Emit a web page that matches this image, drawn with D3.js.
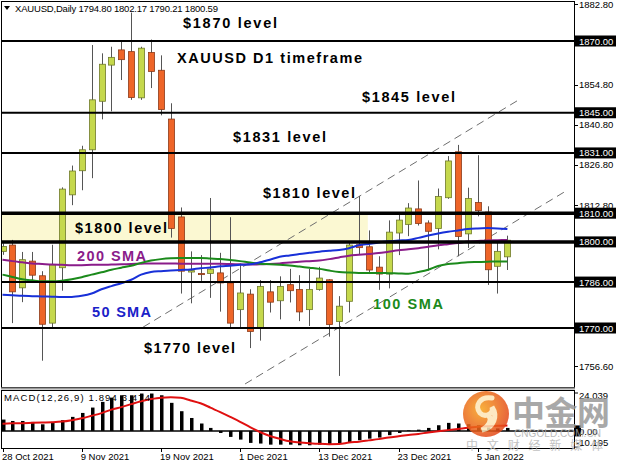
<!DOCTYPE html>
<html><head><meta charset="utf-8">
<script src="https://cdn.jsdelivr.net/npm/d3@7"></script>
<style>body{margin:0;background:#fff;}svg{display:block;}</style>
</head><body>
<svg id="c" width="619" height="465"></svg>
<script>
// ---------- DATA ----------
const dates = ["28 Oct 2021","29 Oct 2021","1 Nov 2021","2 Nov 2021","3 Nov 2021","4 Nov 2021","5 Nov 2021","8 Nov 2021","9 Nov 2021","10 Nov 2021","11 Nov 2021","12 Nov 2021","15 Nov 2021","16 Nov 2021","17 Nov 2021","18 Nov 2021","19 Nov 2021","22 Nov 2021","23 Nov 2021","24 Nov 2021","25 Nov 2021","26 Nov 2021","29 Nov 2021","30 Nov 2021","1 Dec 2021","2 Dec 2021","3 Dec 2021","6 Dec 2021","7 Dec 2021","8 Dec 2021","9 Dec 2021","10 Dec 2021","13 Dec 2021","14 Dec 2021","15 Dec 2021","16 Dec 2021","17 Dec 2021","20 Dec 2021","21 Dec 2021","22 Dec 2021","23 Dec 2021","27 Dec 2021","28 Dec 2021","29 Dec 2021","30 Dec 2021","31 Dec 2021","3 Jan 2022","4 Jan 2022","5 Jan 2022","6 Jan 2022","7 Jan 2022","10 Jan 2022"];
const openP  = [1796.7,1798.9,1784.0,1793.3,1788.2,1771.7,1791.0,1816.4,1824.8,1832.1,1849.0,1861.6,1866.9,1866.3,1850.2,1866.0,1859.8,1842.8,1808.7,1789.5,1789.0,1789.0,1789.2,1785.7,1776.4,1781.8,1770.0,1782.6,1779.5,1785.1,1783.4,1776.4,1783.4,1786.8,1772.3,1779.3,1799.0,1798.3,1791.2,1788.8,1803.1,1806.1,1811.5,1806.6,1804.7,1815.4,1831.4,1802.8,1813.7,1810.4,1791.5,1794.80];
const highP  = [1799.5,1800.7,1796.5,1796.5,1789.8,1799.0,1819.0,1826.6,1833.5,1868.6,1865.7,1868.0,1869.8,1879.9,1868.0,1870.5,1865.0,1848.3,1812.0,1796.7,1795.4,1815.3,1796.2,1808.6,1792.5,1783.5,1786.7,1786.7,1788.0,1790.6,1788.4,1790.6,1791.3,1787.0,1781.1,1800.0,1816.0,1804.0,1795.0,1807.5,1810.4,1813.5,1821.4,1807.5,1818.6,1829.9,1833.8,1818.9,1830.2,1812.4,1800.0,1802.17];
const lowP   = [1795.5,1771.7,1779.0,1786.0,1758.6,1770.0,1783.0,1812.8,1818.0,1822.2,1842.7,1845.5,1856.4,1849.5,1849.5,1853.6,1844.1,1801.5,1782.0,1778.6,1786.4,1780.5,1775.7,1770.0,1769.7,1763.0,1765.6,1775.4,1773.0,1778.9,1772.4,1770.7,1783.0,1767.0,1753.3,1775.4,1795.5,1788.8,1783.3,1783.8,1795.4,1802.0,1805.7,1790.0,1797.4,1815.0,1795.0,1797.9,1808.9,1785.0,1782.0,1790.21];
const closeP = [1798.4,1782.6,1793.8,1788.4,1771.3,1792.0,1818.4,1824.7,1832.1,1849.5,1861.9,1864.3,1863.5,1850.3,1867.5,1859.4,1846.1,1804.7,1789.8,1790.0,1788.6,1790.5,1785.7,1771.7,1782.2,1768.8,1784.5,1779.0,1784.5,1783.0,1775.6,1783.4,1787.4,1771.2,1777.6,1798.9,1798.0,1790.2,1788.8,1803.4,1807.6,1811.8,1806.4,1803.7,1815.8,1828.2,1801.9,1815.1,1810.9,1790.3,1796.7,1800.59];
const sma50  = [1781.6,1781.4,1781.2,1781.1,1781.0,1780.9,1780.8,1780.8,1781.2,1782.0,1783.5,1784.6,1785.6,1786.8,1788.6,1789.5,1789.8,1790.0,1790.2,1790.4,1790.8,1791.1,1791.5,1791.7,1792.0,1792.2,1792.9,1793.8,1794.8,1795.3,1795.8,1796.2,1796.6,1796.9,1797.2,1797.8,1798.8,1799.3,1799.8,1800.2,1800.5,1800.7,1801.4,1802.2,1802.9,1803.5,1804.0,1804.5,1804.7,1804.8,1804.7,1804.5];
const sma100 = [1788.6,1787.8,1787.0,1786.6,1786.3,1786.3,1786.5,1787.0,1787.7,1788.6,1789.4,1790.3,1791.0,1791.7,1792.7,1793.5,1794.0,1794.3,1794.4,1794.4,1794.4,1794.2,1794.0,1793.7,1793.3,1792.8,1792.4,1792.2,1792.0,1791.8,1791.4,1791.0,1790.6,1790.0,1789.5,1789.3,1789.2,1789.2,1789.2,1789.1,1789.0,1788.9,1789.5,1790.3,1791.6,1792.3,1792.6,1792.9,1793.0,1793.1,1793.2,1793.2];
const sma200 = [1793.8,1793.3,1792.9,1792.5,1792.3,1792.1,1792.0,1791.9,1791.9,1792.0,1792.0,1792.1,1792.2,1792.3,1792.4,1792.5,1792.5,1792.5,1792.4,1792.4,1792.4,1792.4,1792.4,1792.3,1792.2,1792.1,1792.2,1792.3,1792.5,1792.8,1793.1,1793.3,1793.5,1794.0,1794.6,1795.2,1795.5,1795.8,1796.1,1796.6,1797.1,1797.4,1797.8,1798.3,1798.8,1799.2,1799.6,1800.1,1800.3,1800.5,1800.6,1800.7];
const macdMain   = [7.2,6.3,6.3,5.7,4.2,5.7,6.8,8.9,11.4,14.8,18.4,21.1,22.6,22.6,23.7,23.7,22.6,17.8,12.5,8.2,4.7,1.9,-1.3,-3.8,-5.5,-7.6,-8.0,-8.7,-8.7,-8.7,-9.1,-9.1,-8.7,-8.7,-8.0,-7.0,-5.9,-4.9,-4.2,-2.7,-1.3,0.4,0.8,1.9,3.6,5.1,4.7,4.3,3.6,2.2,1.6,1.894];
const macdSignal = [4.6,4.8,4.9,5.1,5.3,5.5,5.9,6.8,8.0,9.6,11.3,13.5,15.1,17.0,18.8,20.2,21.1,21.3,21.0,19.3,17.5,14.8,11.9,8.9,5.8,2.4,-0.7,-3.2,-5.0,-6.6,-7.3,-7.8,-8.2,-8.4,-8.3,-7.4,-6.8,-6.0,-5.2,-4.2,-3.4,-2.6,-1.9,-1.0,-0.2,0.5,1.2,2.0,2.6,3.0,3.3,3.474];
const levels = [1870,1845,1831,1810,1800,1786,1770];
const thickLevels = [1810,1800];
const bandLevels = [1800,1810];
const bandEndIndex = 36.9;
const plainPriceTicks = [1882.80,1854.80,1840.80,1826.80,1812.80,1756.60];
const dateTickIdx = [0,8,16,24,32,40,48];
const macdTicks = [24.039,0,-10.195];
// trend channel (bar index, price)
const upperChannel = [[14.2,1770.3],[52.1,1849.4]];
const lowerChannel = [[24.5,1750.5],[56.9,1817.7]];
const header = "XAUUSD,Daily  1794.80 1802.17 1790.21 1800.59";
const macdLabel = "MACD(12,26,9) 1.894 3.474";

// ---------- LAYOUT ----------
const L = 1, R = 574, MT = 1, MB = 387, KT = 390, KB = 448;
const svg = d3.select("#c");
const x = d3.scaleLinear().domain([0, dates.length - 1]).range([2.5, 507.4]);
const y = d3.scaleLinear().domain([1770, 1870]).range([328, 41]);
const ym = d3.scaleLinear().domain([-10.195, 24.039]).range([447, 393]);
const font = "'Liberation Sans', Arial, sans-serif";

svg.append("rect").attr("width",619).attr("height",465).attr("fill","#fff");
const defs = svg.append("defs");
defs.append("clipPath").attr("id","mc").append("rect").attr("x",L).attr("y",MT).attr("width",R-L).attr("height",MB-MT);
defs.append("clipPath").attr("id","kc").append("rect").attr("x",L).attr("y",KT).attr("width",R-L).attr("height",KB-KT);

const main = svg.append("g").attr("clip-path","url(#mc)");

// band
main.append("rect").attr("x",0).attr("width",x(bandEndIndex))
  .attr("y",y(bandLevels[1])).attr("height",y(bandLevels[0])-y(bandLevels[1])).attr("fill","#fbf8d2");

// channel
[upperChannel, lowerChannel].forEach(c => {
  main.append("line").attr("x1",x(c[0][0])).attr("y1",y(c[0][1])).attr("x2",x(c[1][0])).attr("y2",y(c[1][1]))
    .attr("stroke","#6e6e6e").attr("stroke-width",1).attr("stroke-dasharray","8,5");
});

// candles
const idx = d3.range(dates.length);
const cg = main.append("g");
cg.selectAll("line.w").data(idx).join("line").attr("class","w")
  .attr("x1",i=>Math.round(x(i))+0.5).attr("x2",i=>Math.round(x(i))+0.5)
  .attr("y1",i=>y(highP[i])).attr("y2",i=>y(lowP[i])).attr("stroke","#555").attr("stroke-width",1);
cg.selectAll("rect.b").data(idx).join("rect").attr("class","b")
  .attr("x",i=>Math.round(x(i))-2.5).attr("width",6)
  .attr("y",i=>y(Math.max(openP[i],closeP[i])))
  .attr("height",i=>Math.max(1,Math.abs(y(openP[i])-y(closeP[i]))))
  .attr("fill",i=>closeP[i]>=openP[i]?"#c5d84c":"#ee6528")
  .attr("stroke",i=>closeP[i]>=openP[i]?"#6f7a2a":"#8c3a18").attr("stroke-width",0.8);

// moving averages
const ln = arr => d3.line().x((d,i)=>x(i)).y(d=>y(d)).curve(d3.curveMonotoneX)(arr);
main.append("path").attr("d",ln(sma200)).attr("fill","none").attr("stroke","#8a1c8a").attr("stroke-width",2);
main.append("path").attr("d",ln(sma100)).attr("fill","none").attr("stroke","#1b8a1b").attr("stroke-width",2);
main.append("path").attr("d",ln(sma50)).attr("fill","none").attr("stroke","#1830d8").attr("stroke-width",2);

// levels
main.selectAll("line.lv").data(levels).join("line").attr("class","lv")
  .attr("x1",0).attr("x2",R).attr("y1",d=>y(d)).attr("y2",d=>y(d))
  .attr("stroke","#000").attr("stroke-width",d=>thickLevels.includes(d)?3.5:2);

// annotations
const notes = [
  {t:"$1870 level", x:183, y:28, w:94, c:"#000"},
  {t:"XAUUSD D1 timeframe", x:177, y:63, w:185, c:"#000"},
  {t:"$1845 level", x:362, y:102, w:93, c:"#000"},
  {t:"$1831 level", x:233, y:142, w:93, c:"#000"},
  {t:"$1810 level", x:263, y:198, w:92, c:"#000"},
  {t:"$1800 level", x:75, y:233, w:92, c:"#000"},
  {t:"200 SMA", x:77, y:261, w:69, c:"#8a1c8a"},
  {t:"50 SMA", x:92, y:317, w:59, c:"#1a22c8"},
  {t:"100 SMA", x:373, y:309, w:70, c:"#1b8a1b"},
  {t:"$1770 level", x:144, y:353, w:91, c:"#000"}
];
svg.append("g").selectAll("text").data(notes).join("text")
  .attr("x",d=>d.x).attr("y",d=>d.y).attr("textLength",d=>d.w).attr("lengthAdjust","spacing")
  .attr("font-family",font).attr("font-weight","bold").attr("font-size",14.5).attr("fill",d=>d.c).text(d=>d.t);

// header
svg.append("path").attr("d","M4,6 L10,6 L7,10 Z").attr("fill","#000");
svg.append("text").attr("x",15).attr("y",12).attr("font-family",font).attr("font-size",9.5)
  .attr("textLength",203).attr("lengthAdjust","spacing").attr("fill","#000").text(header);

// frames
svg.append("rect").attr("x",L+0.5).attr("y",MT+0.5).attr("width",R-L).attr("height",MB-MT).attr("fill","none").attr("stroke","#000");
svg.append("rect").attr("x",L).attr("y",MB+0.5).attr("width",R-L+1).attr("height",KT-MB-1).attr("fill","#9a9a9a");
svg.append("rect").attr("x",L+0.5).attr("y",KT+0.5).attr("width",R-L).attr("height",KB-KT).attr("fill","none").attr("stroke","#000");

// price axis
const ax = svg.append("g");
ax.selectAll("line.pt").data(plainPriceTicks).join("line").attr("class","pt")
  .attr("x1",R).attr("x2",R+4).attr("y1",d=>Math.round(y(d))+0.5).attr("y2",d=>Math.round(y(d))+0.5).attr("stroke","#000");
ax.selectAll("text.pt").data(plainPriceTicks).join("text").attr("class","pt")
  .attr("x",579).attr("y",d=>y(d)+3.5).attr("font-family",font).attr("font-size",9.5).attr("fill","#000")
  .text(d=>d.toFixed(2));
ax.selectAll("rect.lb").data(levels).join("rect").attr("class","lb")
  .attr("x",R+1).attr("width",41).attr("y",d=>y(d)-5.5).attr("height",11).attr("fill","#000");
ax.selectAll("text.lb").data(levels).join("text").attr("class","lb")
  .attr("x",579).attr("y",d=>y(d)+3.5).attr("font-family",font).attr("font-size",9.5).attr("fill","#fff")
  .text(d=>d.toFixed(2));

// MACD panel
const kg = svg.append("g").attr("clip-path","url(#kc)");
kg.append("line").attr("x1",L).attr("x2",R).attr("y1",ym(0)).attr("y2",ym(0)).attr("stroke","#000").attr("stroke-width",1.5);
kg.selectAll("rect.h").data(idx).join("rect").attr("class","h")
  .attr("x",i=>Math.round(x(i))-1).attr("width",3.5)
  .attr("y",i=>Math.min(ym(0),ym(macdMain[i]))).attr("height",i=>Math.abs(ym(macdMain[i])-ym(0)))
  .attr("fill","#000");
kg.append("path").attr("d",d3.line().x((d,i)=>x(i)).y(d=>ym(d)).curve(d3.curveMonotoneX)(macdSignal))
  .attr("fill","none").attr("stroke","#e01010").attr("stroke-width",2);
svg.append("text").attr("x",4).attr("y",401).attr("font-family",font).attr("font-size",9.5)
  .attr("textLength",146).attr("lengthAdjust","spacing").attr("fill","#000").text(macdLabel);

// MACD axis
ax.selectAll("line.mt").data(macdTicks).join("line").attr("class","mt")
  .attr("x1",R).attr("x2",R+4).attr("y1",d=>ym(d)).attr("y2",d=>ym(d)).attr("stroke","#000");
ax.append("rect").attr("x",R+1).attr("y",ym(0)-5.5).attr("width",6).attr("height",11).attr("fill","#000");
ax.selectAll("text.mt").data(macdTicks).join("text").attr("class","mt")
  .attr("x",d=>d<0?576:579).attr("y",(d,i)=>[398.5,435,446][i]).attr("font-family",font).attr("font-size",9.5).attr("fill","#000")
  .text(d=>d===0?"0.00":(d<0?"-"+Math.abs(d).toFixed(3):d.toFixed(3)));

// date axis
const dg = svg.append("g");
dg.selectAll("line").data(dateTickIdx).join("line")
  .attr("x1",i=>Math.round(x(i))+0.5).attr("x2",i=>Math.round(x(i))+0.5).attr("y1",KB).attr("y2",KB+4).attr("stroke","#000");
dg.selectAll("text").data(dateTickIdx).join("text")
  .attr("x",i=>Math.max(2,x(i)-1)).attr("y",460).attr("font-family",font).attr("font-size",9.5).attr("fill","#000")
  .text(i=>dates[i]);

// watermark
const wm = svg.append("g").attr("opacity",0.85);
const grad = defs.append("radialGradient").attr("id","lg").attr("cx","40%").attr("cy","40%").attr("r","65%");
grad.append("stop").attr("offset","0%").attr("stop-color","#f7a31c");
grad.append("stop").attr("offset","100%").attr("stop-color","#e3451a");
wm.append("circle").attr("cx",486).attr("cy",414).attr("r",23).attr("fill","url(#lg)");
wm.append("path").attr("d","M492,398 C480,396 474,406 480,413 C485,418 494,414 492,407 C498,416 494,428 482,430 C489,426 492,420 489,416")
  .attr("fill","none").attr("stroke","#fde6b8").attr("stroke-width",5).attr("stroke-linecap","round");
wm.append("text").attr("x",512).attr("y",425).attr("font-family","'Noto Sans CJK SC', sans-serif").attr("font-weight","bold")
  .attr("font-size",33).attr("fill","#9a9a9a").attr("textLength",98).attr("lengthAdjust","spacing").text("中金网");
wm.append("text").attr("x",514).attr("y",437).attr("font-family",font).attr("font-size",10)
  .attr("fill","#b0b0b0").attr("textLength",87).attr("lengthAdjust","spacing").text("CNGOLD.COM.CN");
wm.append("text").attr("x",466).attr("y",450).attr("font-family","'Noto Sans CJK SC', sans-serif")
  .attr("font-size",12).attr("fill","#b8b8b8").attr("textLength",137).attr("lengthAdjust","spacing").text("中文财经新媒体");
</script>
</body></html>
